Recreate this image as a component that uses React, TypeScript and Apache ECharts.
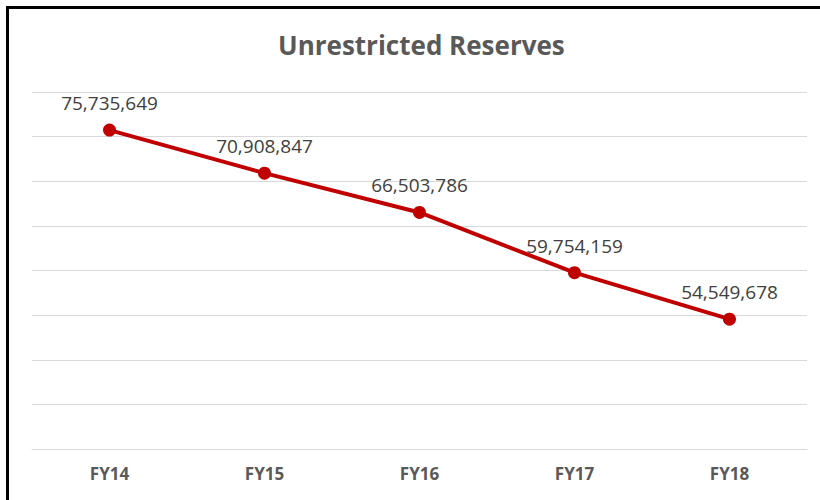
import React, { useEffect, useRef } from "react";
import * as echarts from "echarts";

const categories = ["FY14", "FY15", "FY16", "FY17", "FY18"];
const reserves = [75735649, 70908847, 66503786, 59754159, 54549678];
const yMin = 40000000;
const yMax = 80000000;
const yStep = 5000000;

export default function App() {
  const ref = useRef<HTMLDivElement>(null);
  useEffect(() => {
    if (!ref.current) return;
    const chart = echarts.init(ref.current, undefined, { renderer: "svg" });
    chart.setOption({
      animation: false,
      backgroundColor: "#ffffff",
      title: {
        text: "Unrestricted Reserves",
        left: 273,
        top: 27,
        textStyle: {
          fontFamily: "Open Sans",
          fontWeight: "bold",
          fontSize: 26,
          color: "#595959",
        },
      },
      graphic: [
        {
          type: "rect",
          shape: { x: 7.5, y: 7.5, width: 830, height: 520 },
          style: { fill: "none", stroke: "#000000", lineWidth: 3 },
          silent: true,
        },
      ],
      grid: { left: 32, right: 13, top: 92, bottom: 51 },
      xAxis: {
        type: "category",
        data: categories,
        boundaryGap: true,
        axisLine: { show: true, lineStyle: { color: "#d9d9d9", width: 1 } },
        axisTick: { show: false },
        axisLabel: {
          margin: 16,
          fontFamily: "Open Sans",
          fontWeight: "bold",
          fontSize: 17,
          color: "#595959",
        },
      },
      yAxis: {
        type: "value",
        min: yMin,
        max: yMax,
        interval: yStep,
        axisLabel: { show: false },
        axisLine: { show: false },
        axisTick: { show: false },
        splitLine: { lineStyle: { color: "#d9d9d9", width: 1 } },
      },
      series: [
        {
          type: "line",
          data: reserves,
          lineStyle: { color: "#C00000", width: 4 },
          itemStyle: { color: "#C00000" },
          symbol: "circle",
          symbolSize: 13,
          label: {
            show: true,
            position: "top",
            distance: 11,
            fontFamily: "Open Sans",
            fontSize: 19,
            color: "#404040",
            formatter: (p: any) => Number(p.value).toLocaleString("en-US"),
          },
        },
      ],
    });
    return () => chart.dispose();
  }, []);
  return (
    <div
      ref={ref}
      style={{ position: "fixed", left: 0, top: 0, width: 820, height: 500 }}
    />
  );
}
